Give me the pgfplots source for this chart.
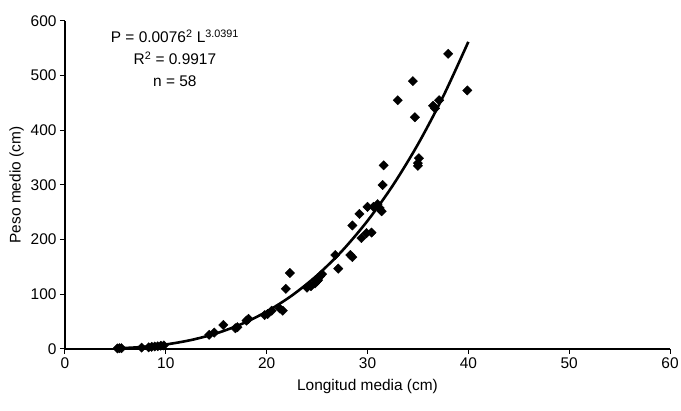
\documentclass[border=0pt]{standalone}
\usepackage{fontspec}
\setmainfont{Liberation Sans}
\usepackage{pgfplots}
\pgfplotsset{compat=1.18}

\begin{document}
\begin{tikzpicture}
\begin{axis}[
    scale only axis,
    width = 605bp,
    height = 328bp,
    xmin = 0, xmax = 60,
    ymin = 0, ymax = 600,
    axis x line* = bottom,
    axis y line* = left,
    axis line style = {-, line width=1.1bp},
    xtick = {0,10,...,60},
    ytick = {0,100,...,600},
    tick align = outside,
    major tick length = 5bp,
    tick style = {black, line width=1bp},
    /pgf/number format/assume math mode=true,
    tick label style = {font=\fontsize{15.5}{17}\selectfont},
    label style = {font=\fontsize{15.5}{17}\selectfont},
    xlabel = {Longitud media (cm)},
    ylabel = {Peso medio (cm)},
    xlabel style = {at={(axis description cs:0.5,-0.115)}, anchor=center},
    ylabel style = {at={(axis description cs:-0.08,0.5)}, anchor=center},
    clip = false,
]
% observed points
\addplot[only marks, mark=square*, mark size=3.3bp, mark options={rotate=45, fill=black, draw=black}] coordinates {
    (5.2,1) (5.4,1.5) (5.6,1.5) (7.6,2.5) (8.3,3) (8.6,4) (8.9,4.5) (9.2,5) (9.5,6) (9.8,6.5)
    (14.3,26) (14.8,30) (15.7,44) (16.9,38) (17.1,40) (18.0,52) (18.2,55)
    (19.8,62) (20.1,64) (20.5,70) (21.3,74) (21.6,70) (21.9,110) (22.3,139)
    (24.0,112) (24.4,115) (24.8,120) (25.0,124) (25.1,126) (25.3,133) (25.5,137)
    (26.8,172) (27.1,147) (28.3,172) (28.5,168) (28.5,226) (29.2,247) (29.4,203)
    (29.9,212) (30.0,260) (30.4,213) (30.6,260) (31.0,265) (31.2,258) (31.4,252)
    (31.5,300) (31.6,336)
    (33.0,455) (34.5,490) (34.7,424) (35.0,335) (35.1,349) (35.0,340)
    (36.5,445) (36.7,440) (37.1,455) (38.0,540) (39.9,473)
};
% fitted curve
\addplot[black, line width=2.6bp, smooth, no marks] coordinates {
    (5,1.0) (7.5,3.5) (10,8.3) (12.5,16.4) (15,28.5) (17.5,45.6) (20,68.4)
    (22.5,97.8) (25,134.7) (27.5,179.9) (30,234.4) (32.5,298.9) (35,374.4)
    (37.5,461.8) (40,561.9)
};
\node[align=center, anchor=center, font=\fontsize{15.5}{21.7}\selectfont] at (axis cs:10.9,532)
    {P = 0.0076\textsuperscript{2} L\textsuperscript{3.0391}\\ R\textsuperscript{2} = 0.9917\\ n = 58};
\end{axis}
\pgfresetboundingbox
\path[use as bounding box] ([shift={(-65bp,-62bp)}]current axis.south west) rectangle ([shift={(11bp,21bp)}]current axis.north east);
\end{tikzpicture}
\end{document}
